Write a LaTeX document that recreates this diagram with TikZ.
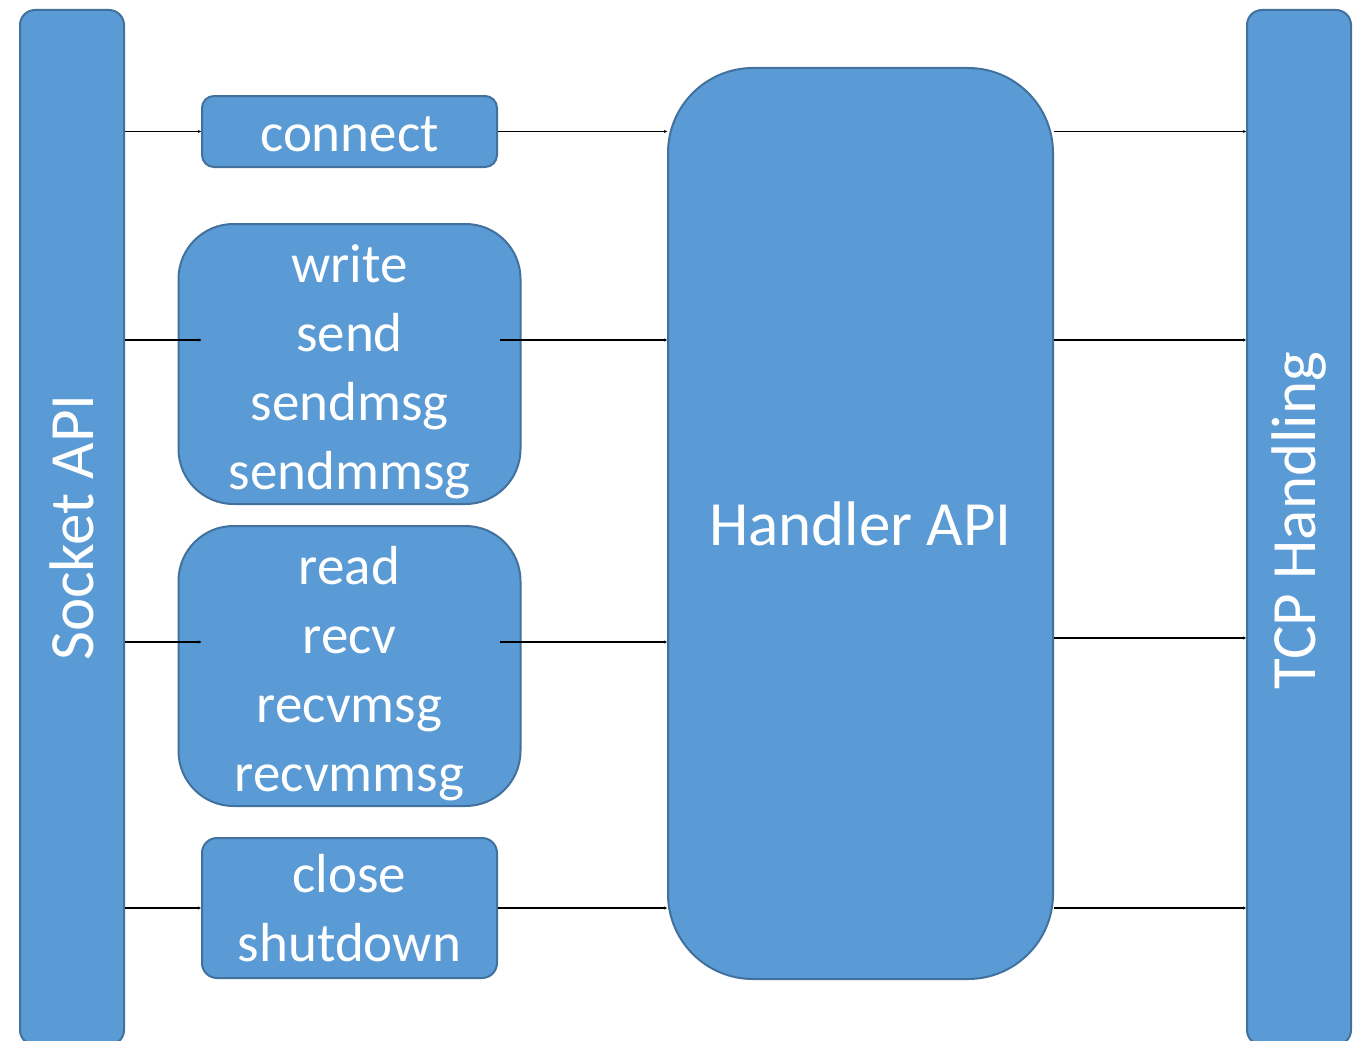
\documentclass[tikz,border=0pt]{standalone}
\usepackage{fontspec}
\setmainfont{Carlito}
\usetikzlibrary{positioning,arrows.meta}
\definecolor{boxfill}{HTML}{5B9BD5}
\definecolor{boxedge}{HTML}{41719C}
\tikzset{apibar/.style={draw=boxedge, fill=boxfill, line width=2pt, rounded corners=15pt, inner sep=0pt}}
\tikzset{barlabel/.style={text=white, font=\fontsize{63}{69}\selectfont, inner sep=0pt}}
\tikzset{callbox/.style={draw=boxedge, fill=boxfill, line width=2pt, text=white, align=center, font=\fontsize{55}{69}\selectfont, inner sep=0pt}}
\tikzset{linkarrow/.style={-{Stealth[length=3pt,width=3pt]}, line width=1.2pt}}

\begin{document}
\begin{tikzpicture}[x=1pt, y=-1pt]
\clip (0,0) rectangle (1365,1041);
% the two layers
\node[apibar, minimum width=104pt, minimum height=1035pt] (socket) at (72,527.5) {};
\node[barlabel, rotate=90] (socketlabel) at (socket.center) {Socket API};
\node[apibar, minimum width=104pt, minimum height=1035pt] (tcp) at (1299,527.5) {};
\node[barlabel, rotate=90, xshift=7pt] (tcplabel) at (tcp.center) {TCP Handling};
\node[apibar, rounded corners=85pt, minimum width=385pt, minimum height=911pt, text=white, font=\fontsize{63}{69}\selectfont] (handler) at (860.5,523.5) {Handler API};
% the calls
\node[callbox, rounded corners=12pt, minimum width=295pt, minimum height=71pt, text height=41pt] (connect) at (349.5,131.5) {connect};
\node[callbox, rounded corners=55pt, minimum width=342pt, minimum height=280pt, below=55pt of connect] (write) {\rule{0pt}{53pt}write\\send\\sendmsg\\sendmmsg};
\node[callbox, rounded corners=55pt, minimum width=342pt, minimum height=280pt, below=20pt of write] (read) {\rule{0pt}{53pt}read\\recv\\recvmsg\\recvmmsg};
\node[callbox, rounded corners=15pt, minimum width=295pt, minimum height=140pt, below=30pt of read] (close) {close\\shutdown};
\coordinate (writein) at ([xshift=24pt, yshift=24pt]write.west);
\coordinate (writeout) at ([xshift=-22pt, yshift=24pt]write.east);
\coordinate (readin) at ([xshift=24pt, yshift=24pt]read.west);
\coordinate (readout) at ([xshift=-22pt, yshift=24pt]read.east);
\coordinate (readtcp) at ([yshift=28pt]read.east);
\draw[linkarrow] (connect.west -| socket.east) -- (connect.west);
\draw[linkarrow] (connect.east) -- (connect.east -| handler.west);
\draw[linkarrow] (writein -| socket.east) -- (writein);
\draw[linkarrow] (writeout) -- (writeout -| handler.west);
\draw[linkarrow] (readin -| socket.east) -- (readin);
\draw[linkarrow] (readout) -- (readout -| handler.west);
\draw[linkarrow] (close.west -| socket.east) -- (close.west);
\draw[linkarrow] (close.east) -- (close.east -| handler.west);
% handler to tcp
\draw[linkarrow] (connect -| handler.east) -- (connect -| tcp.west);
\draw[linkarrow] (writein -| handler.east) -- (writein -| tcp.west);
\draw[linkarrow] (readtcp -| handler.east) -- (readtcp -| tcp.west);
\draw[linkarrow] (close -| handler.east) -- (close -| tcp.west);
\end{tikzpicture}
\end{document}
